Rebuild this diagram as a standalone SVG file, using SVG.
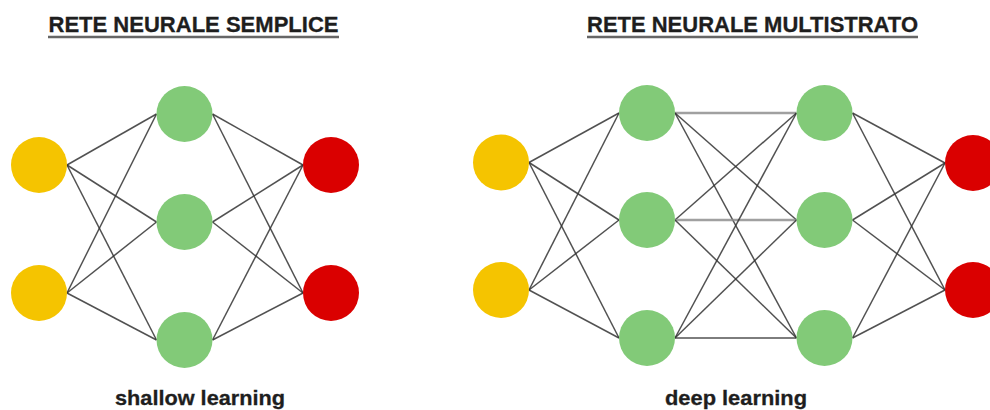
<svg xmlns="http://www.w3.org/2000/svg" width="990" height="410" viewBox="0 0 990 410">
  <style>
    .title { font-family: "Liberation Sans", Arial, sans-serif; font-weight: bold; font-size: 22px; fill: #1e1e1e; stroke: #1e1e1e; stroke-width: 0.3; }
    .caption { font-family: "Liberation Sans", Arial, sans-serif; font-weight: bold; font-size: 20.5px; fill: #1e1e1e; stroke: #1e1e1e; stroke-width: 0.3; }
    .rule { stroke: #666; stroke-width: 2.4; }
    .edge { stroke: #333; stroke-width: 1.5; stroke-opacity: 0.85; fill: none; }
    .edge-soft { stroke: #888; stroke-width: 2.6; stroke-opacity: 0.8; fill: none; }
    .in { fill: #F5C400; }
    .hid { fill: #82CA78; }
    .out { fill: #DA0000; }
  </style>

  <rect width="990" height="410" fill="#ffffff"/>

  <!-- headings -->
  <g id="title-simple">
    <text class="title" x="193.5" y="32" text-anchor="middle" textLength="290" lengthAdjust="spacingAndGlyphs">RETE NEURALE SEMPLICE</text>
    <line class="rule" x1="48" y1="37" x2="339" y2="37"/>
  </g>
  <g id="title-multi">
    <text class="title" x="752.5" y="32" text-anchor="middle" textLength="331" lengthAdjust="spacingAndGlyphs">RETE NEURALE MULTISTRATO</text>
    <line class="rule" x1="587" y1="37" x2="918" y2="37"/>
  </g>

  <!-- connections -->
  <g id="connectors">
    <!-- shallow: input -> hidden -->
    <line class="edge" x1="67" y1="165" x2="156.5" y2="114"/>
    <line class="edge" x1="67" y1="165" x2="156.5" y2="222"/>
    <line class="edge" x1="67" y1="165" x2="156.5" y2="340"/>
    <line class="edge" x1="67" y1="293" x2="156.5" y2="114"/>
    <line class="edge" x1="67" y1="293" x2="156.5" y2="222"/>
    <line class="edge" x1="67" y1="293" x2="156.5" y2="340"/>
    <!-- shallow: hidden -> output -->
    <line class="edge" x1="212.5" y1="114" x2="303" y2="165"/>
    <line class="edge" x1="212.5" y1="114" x2="303" y2="293"/>
    <line class="edge" x1="212.5" y1="222" x2="303" y2="165"/>
    <line class="edge" x1="212.5" y1="222" x2="303" y2="293"/>
    <line class="edge" x1="212.5" y1="340" x2="303" y2="165"/>
    <line class="edge" x1="212.5" y1="340" x2="303" y2="293"/>

    <!-- deep: input -> hidden 1 -->
    <line class="edge" x1="529" y1="162.5" x2="619" y2="113"/>
    <line class="edge" x1="529" y1="162.5" x2="619" y2="220"/>
    <line class="edge" x1="529" y1="162.5" x2="619" y2="338"/>
    <line class="edge" x1="529" y1="290" x2="619" y2="113"/>
    <line class="edge" x1="529" y1="290" x2="619" y2="220"/>
    <line class="edge" x1="529" y1="290" x2="619" y2="338"/>
    <!-- deep: hidden 1 -> hidden 2 -->
    <line class="edge-soft" x1="675" y1="113" x2="796.5" y2="113"/>
    <line class="edge" x1="675" y1="113" x2="796.5" y2="220"/>
    <line class="edge" x1="675" y1="113" x2="796.5" y2="338"/>
    <line class="edge" x1="675" y1="220" x2="796.5" y2="113"/>
    <line class="edge-soft" x1="675" y1="220" x2="796.5" y2="220"/>
    <line class="edge" x1="675" y1="220" x2="796.5" y2="338"/>
    <line class="edge" x1="675" y1="338" x2="796.5" y2="113"/>
    <line class="edge" x1="675" y1="338" x2="796.5" y2="220"/>
    <line class="edge" x1="675" y1="338" x2="796.5" y2="338"/>
    <!-- deep: hidden 2 -> output -->
    <line class="edge" x1="852.5" y1="113" x2="945" y2="163"/>
    <line class="edge" x1="852.5" y1="113" x2="945" y2="290"/>
    <line class="edge" x1="852.5" y1="220" x2="945" y2="163"/>
    <line class="edge" x1="852.5" y1="220" x2="945" y2="290"/>
    <line class="edge" x1="852.5" y1="338" x2="945" y2="163"/>
    <line class="edge" x1="852.5" y1="338" x2="945" y2="290"/>
  </g>

  <!-- shallow network nodes -->
  <g id="s-in-1"><circle class="in" cx="39" cy="165" r="28"/></g>
  <g id="s-in-2"><circle class="in" cx="39" cy="293" r="28"/></g>
  <g id="s-hid-1"><circle class="hid" cx="184.5" cy="114" r="28"/></g>
  <g id="s-hid-2"><circle class="hid" cx="184.5" cy="222" r="28"/></g>
  <g id="s-hid-3"><circle class="hid" cx="184.5" cy="340" r="28"/></g>
  <g id="s-out-1"><circle class="out" cx="331" cy="165" r="28"/></g>
  <g id="s-out-2"><circle class="out" cx="331" cy="293" r="28"/></g>

  <!-- deep network nodes -->
  <g id="d-in-1"><circle class="in" cx="501" cy="162.5" r="28"/></g>
  <g id="d-in-2"><circle class="in" cx="501" cy="290" r="28"/></g>
  <g id="d-h1-1"><circle class="hid" cx="647" cy="113" r="28"/></g>
  <g id="d-h1-2"><circle class="hid" cx="647" cy="220" r="28"/></g>
  <g id="d-h1-3"><circle class="hid" cx="647" cy="338" r="28"/></g>
  <g id="d-h2-1"><circle class="hid" cx="824.5" cy="113" r="28"/></g>
  <g id="d-h2-2"><circle class="hid" cx="824.5" cy="220" r="28"/></g>
  <g id="d-h2-3"><circle class="hid" cx="824.5" cy="338" r="28"/></g>
  <g id="d-out-1"><circle class="out" cx="973" cy="163" r="28"/></g>
  <g id="d-out-2"><circle class="out" cx="973" cy="290" r="28"/></g>

  <!-- captions -->
  <g id="caption-shallow">
    <text class="caption" x="200" y="405" text-anchor="middle" textLength="170" lengthAdjust="spacingAndGlyphs">shallow learning</text>
  </g>
  <g id="caption-deep">
    <text class="caption" x="736" y="405" text-anchor="middle" textLength="142" lengthAdjust="spacingAndGlyphs">deep learning</text>
  </g>
</svg>
